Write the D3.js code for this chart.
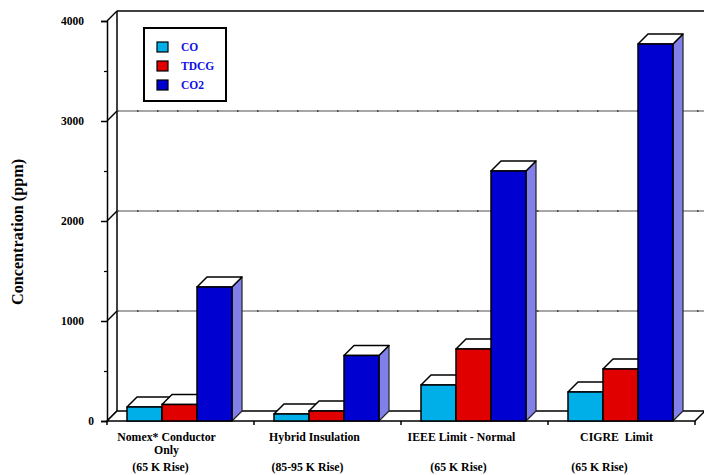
<!DOCTYPE html>
<html><head><meta charset="utf-8">
<script src="https://cdn.jsdelivr.net/npm/d3@7"></script>
<style>
html,body{margin:0;padding:0;background:#fff;}
svg{display:block;}
</style></head>
<body>
<svg id="chart" width="704" height="475"></svg>
<script>
// ---- data ----
const categories = ["Nomex* Conductor", "Hybrid Insulation", "IEEE Limit - Normal", "CIGRE  Limit"];
const categoryLine2 = ["Only", "", "", ""];
const categoryLine3 = ["(65 K Rise)", "(85-95 K Rise)", "(65 K Rise)", "(65 K Rise)"];
const seriesNames = ["CO", "TDCG", "CO2"];
const coValues   = [140, 70, 360, 290];
const tdcgValues = [165, 100, 720, 520];
const co2Values  = [1340, 655, 2500, 3770];
const yTicks = [0, 1000, 2000, 3000, 4000];
const yMinorTicks = [500, 1500, 2500, 3500];
const yTitle = "Concentration (ppm)";

// ---- styles / layout ----
const FONT = '"Liberation Serif", "Times New Roman", Times, "DejaVu Serif", serif';
const seriesValues = [coValues, tdcgValues, co2Values];
const frontColors = ["#00aee8", "#e00000", "#0000d0"];
const sideColors  = ["#7fd6f2", "#ee8080", "#8080e8"];
const DX = 10, DY = -10;
const svg = d3.select("#chart");

const y = d3.scaleLinear().domain([0, 4000]).range([421, 21]);
const x = d3.scaleBand().domain(categories).range([107, 695]).padding(0);
const xs = d3.scaleBand().domain(seriesNames).range([20, 125]).padding(0);
const x0 = 107, x1 = 695, y0 = y(0);

// back wall edges
const g = svg.append("g");
g.append("line").attr("x1", x0 + DX).attr("x2", x0 + DX).attr("y1", y(4000) + DY).attr("y2", y0 + DY)
  .attr("stroke", "#000").attr("stroke-width", 1.5);
g.append("line").attr("x1", x0 + DX).attr("x2", 710).attr("y1", y(4000) + DY).attr("y2", y(4000) + DY)
  .attr("stroke", "#000").attr("stroke-width", 1.5);

// gridlines on back wall
yTicks.filter(v => v > 0 && v < 4000).forEach(v => {
  g.append("line").attr("x1", x0 + DX).attr("x2", 710).attr("y1", y(v) + DY).attr("y2", y(v) + DY)
    .attr("stroke", "#8a8a8a").attr("stroke-width", 1.5);
  g.append("line").attr("x1", x0 + DX).attr("x2", 710).attr("y1", y(v) + DY).attr("y2", y(v) + DY)
    .attr("stroke", "#333").attr("stroke-width", 1.5).attr("stroke-dasharray", "1.5,18.5");
});

// diagonals from front axis to back wall
yTicks.forEach(v => {
  g.append("line").attr("x1", x0).attr("y1", y(v)).attr("x2", x0 + DX).attr("y2", y(v) + DY)
    .attr("stroke", "#000").attr("stroke-width", 1.5);
});

// floor
g.append("path")
  .attr("d", `M${x0},${y0}L${x0 + DX},${y0 + DY}L${x1 + DX},${y0 + DY}L${x1},${y0}Z`)
  .attr("fill", "#fff").attr("stroke", "#000").attr("stroke-width", 1.5);

// left axis
const axisLeft = d3.axisLeft(y).tickValues(yTicks).tickSize(6).tickFormat(d3.format("d"));
const ax = svg.append("g").attr("transform", `translate(${x0},0)`).call(axisLeft);
ax.select(".domain").attr("stroke", "#000").attr("stroke-width", 1.5);
ax.selectAll(".tick line").attr("stroke", "#000").attr("stroke-width", 1.5);
ax.selectAll(".tick text").attr("font-size", 11.5).attr("fill", "#000")
  .attr("x", d => d === 0 ? -13 : -23);
const axisMinor = d3.axisLeft(y).tickValues(yMinorTicks).tickSize(3).tickFormat("");
const axm = svg.append("g").attr("transform", `translate(${x0},0)`).call(axisMinor);
axm.select(".domain").remove();
axm.selectAll(".tick line").attr("stroke", "#000").attr("stroke-width", 1.2);

// bottom category ticks
const boundaries = categories.map(c => x(c)).concat([x1]);
svg.append("g").selectAll("line").data(boundaries).join("line")
  .attr("x1", d => d).attr("x2", d => d).attr("y1", y0).attr("y2", y0 + 4)
  .attr("stroke", "#000").attr("stroke-width", 1.5);

// bars
const bars = svg.append("g");
categories.forEach((cat, ci) => {
  seriesNames.forEach((s, si) => {
    const v = seriesValues[si][ci];
    const bx = x(cat) + xs(s), bw = xs.bandwidth(), by = y(v);
    bars.append("path")
      .attr("d", `M${bx + bw},${by}L${bx + bw + DX},${by + DY}L${bx + bw + DX},${y0 + DY}L${bx + bw},${y0}Z`)
      .attr("fill", sideColors[si]).attr("stroke", "#222").attr("stroke-width", 1.2).attr("stroke-linejoin", "round");
    bars.append("path")
      .attr("d", `M${bx},${by}L${bx + DX},${by + DY}L${bx + bw + DX},${by + DY}L${bx + bw},${by}Z`)
      .attr("fill", "#fff").attr("stroke", "#000").attr("stroke-width", 1.5).attr("stroke-linejoin", "round");
    bars.append("rect")
      .attr("x", bx).attr("y", by).attr("width", bw).attr("height", y0 - by)
      .attr("fill", frontColors[si]).attr("stroke", "#000").attr("stroke-width", 1.5);
  });
});

// category labels
const line1Shift = [-14, -13, -13, -5];
const line3Shift = [-20, -20, -16, -22];
const labels = svg.append("g").attr("font-size", 11.8).attr("text-anchor", "middle").attr("fill", "#000");
categories.forEach((cat, ci) => {
  const cx = x(cat) + x.bandwidth() / 2;
  labels.append("text").attr("x", cx + line1Shift[ci]).attr("y", 441).style("white-space", "pre").text(cat);
  if (categoryLine2[ci]) labels.append("text").attr("x", cx + line1Shift[ci]).attr("y", 454).text(categoryLine2[ci]);
  labels.append("text").attr("x", cx + line3Shift[ci]).attr("y", 471).text(categoryLine3[ci]);
});

// y title
svg.append("text").attr("transform", "translate(23,232) rotate(-90)")
  .attr("text-anchor", "middle").attr("font-size", 16.2).attr("fill", "#000").text(yTitle);

// legend
const lg = svg.append("g");
lg.append("rect").attr("x", 144).attr("y", 28).attr("width", 82).attr("height", 73)
  .attr("fill", "#fff").attr("stroke", "#000").attr("stroke-width", 2);
seriesNames.forEach((s, si) => {
  const ly = 47 + si * 19;
  lg.append("rect").attr("x", 157).attr("y", ly - 5).attr("width", 11).attr("height", 10)
    .attr("fill", frontColors[si]).attr("stroke", "#000").attr("stroke-width", 1.2);
  lg.append("text").attr("x", 181).attr("y", ly + 4).attr("font-size", 11.5).attr("fill", "#1010e8").text(s);
});

svg.selectAll("text").style("font-family", FONT).style("font-weight", "bold");
</script>
</body></html>
